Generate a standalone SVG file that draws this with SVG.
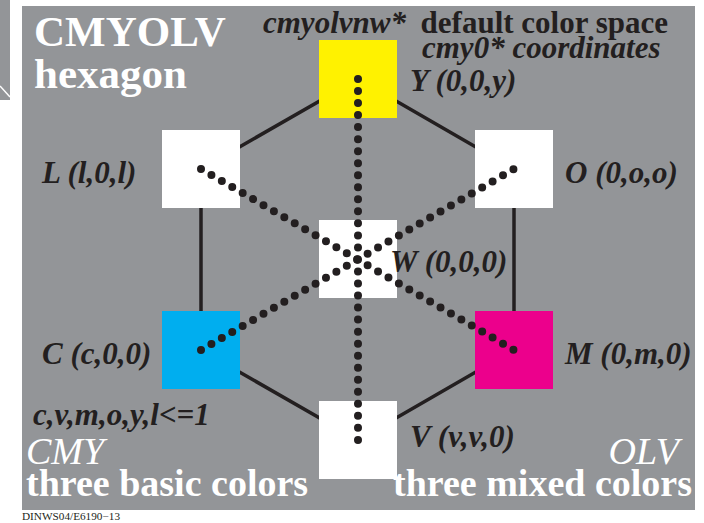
<svg xmlns="http://www.w3.org/2000/svg" width="704" height="523" viewBox="0 0 704 523">
<style>
.bg{fill:#939598}
.hex{stroke:#231f20;stroke-width:3.5;fill:none}
.dot{stroke:#231f20;stroke-width:8;stroke-linecap:round;stroke-dasharray:0 12.03;fill:none}
.lbl{font-family:"Liberation Serif",serif;font-weight:bold;font-style:italic;font-size:31px;fill:#231f20}
.lblr{font-family:"Liberation Serif",serif;font-weight:bold;font-size:31px;fill:#231f20}
.big{font-family:"Liberation Serif",serif;font-weight:bold;fill:#ffffff}
.bigi{font-family:"Liberation Serif",serif;font-style:italic;fill:#ffffff}
.sq{stroke:none}
</style>
<rect x="0" y="0" width="704" height="523" fill="#ffffff"/>
<rect x="0" y="0" width="10" height="100" class="bg"/>
<line x1="0" y1="86" x2="10" y2="97" stroke="#ffffff" stroke-width="1.5"/>
<rect x="22" y="6" width="673" height="504" class="bg"/>
<g id="connectors">
<polygon class="hex" points="358,79 514,169 514,350 358,440 201,350 201,169"/>
</g>
<g id="node-Y"><rect class="sq" x="319" y="40" width="78" height="78" fill="#fff200"/></g>
<g id="node-O"><rect class="sq" x="475" y="130" width="78" height="78" fill="#ffffff"/></g>
<g id="node-M"><rect class="sq" x="475" y="311" width="78" height="78" fill="#ec008c"/></g>
<g id="node-V"><rect class="sq" x="319" y="401" width="78" height="78" fill="#ffffff"/></g>
<g id="node-C"><rect class="sq" x="162" y="311" width="78" height="78" fill="#00aeef"/></g>
<g id="node-L"><rect class="sq" x="162" y="130" width="78" height="78" fill="#ffffff"/></g>
<g id="node-W"><rect class="sq" x="319" y="220" width="78" height="78" fill="#ffffff"/></g>
<g id="dotted-connectors">
<line class="dot" x1="358" y1="79" x2="358" y2="440"/>
<line class="dot" x1="201" y1="169" x2="514" y2="350"/>
<line class="dot" x1="201" y1="350" x2="514" y2="169"/>
</g>
<g id="labels">
<text class="lbl" x="410" y="91">Y (0,0,y)</text>
<text class="lbl" x="42" y="183">L (l,0,l)</text>
<text class="lbl" x="565" y="183">O (0,o,o)</text>
<text class="lbl" x="390" y="272">W (0,0,0)</text>
<text class="lbl" x="42" y="364">C (c,0,0)</text>
<text class="lbl" x="565" y="364">M (0,m,0)</text>
<text class="lbl" x="410" y="447">V (v,v,0)</text>
<text class="lbl" x="33" y="425">c,v,m,o,y,l&lt;=1</text>
<text class="lbl" x="263" y="33">cmyolvnw*</text>
<text class="lblr" x="668" y="33" text-anchor="end">default color space</text>
<text class="lbl" x="422" y="58">cmy0* coordinates</text>
</g>
<g id="titles">
<text class="big" x="34" y="46" font-size="43">CMYOLV</text>
<text class="big" x="34" y="88" font-size="43">hexagon</text>
<text class="bigi" x="26" y="464" font-size="38">CMY</text>
<text class="big" x="26" y="496" font-size="38">three basic colors</text>
<text class="bigi" x="679" y="464" text-anchor="end" font-size="38">OLV</text>
<text class="big" x="692" y="496" text-anchor="end" font-size="38">three mixed colors</text>
</g>
<text x="22" y="520" font-family="Liberation Serif,serif" font-size="9.5" textLength="98" lengthAdjust="spacingAndGlyphs" fill="#231f20">DINWS04/E6190−13</text>
</svg>
